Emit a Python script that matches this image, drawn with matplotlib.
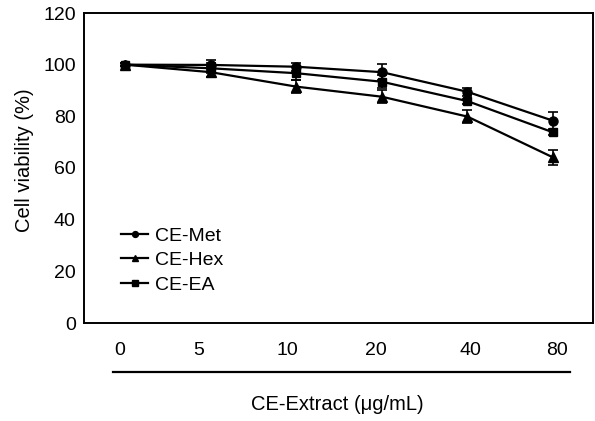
import numpy as np
import matplotlib.pyplot as plt

plt.rcParams['font.family'] = ['Liberation Sans', 'DejaVu Sans']

# ---- data ----
doses = ['0', '5', '10', '20', '40', '80']
met = [100.0, 99.9, 99.2, 97.1, 89.5, 78.3]
met_err = [0.5, 2.0, 1.5, 3.0, 1.5, 3.5]
hex_ = [100.0, 97.1, 91.5, 87.6, 79.9, 64.1]
hex_err = [0.5, 2.0, 2.5, 2.5, 2.5, 2.8]
ea = [100.0, 98.6, 96.7, 93.4, 85.9, 73.8]
ea_err = [0.5, 2.0, 2.5, 2.5, 1.0, 1.2]

# label row in the original sits a little off the data points
label_pos = [-0.06, 0.86, 1.90, 2.93, 4.04, 5.05]

fig = plt.figure(figsize=(5.95, 4.21), dpi=100)
ax = fig.add_axes([84 / 595, 1 - 323 / 421, 509 / 595, 310 / 421])

x = np.arange(len(doses))
handles = []
for y, err, mk, ms, name in [(met, met_err, 'o', 6.5, 'CE-Met'),
                             (hex_, hex_err, '^', 6.5, 'CE-Hex'),
                             (ea, ea_err, 's', 6, 'CE-EA')]:
    eb = ax.errorbar(x, y, yerr=err, color='black', marker=mk, markersize=ms,
                     lw=1.6, elinewidth=1.2, capsize=3.5, capthick=1.2)
    eb[0].set_label(name)
    handles.append(eb[0])

ax.set_xlim(-0.479, 5.467)
ax.set_ylim(0, 120)
ax.set_yticks(range(0, 121, 20))
ax.set_xticks(label_pos)
ax.set_xticklabels(doses)
ax.tick_params(axis='both', length=0, labelsize=14)
ax.tick_params(axis='y', pad=6)
ax.tick_params(axis='x', pad=14)
for s in ax.spines.values():
    s.set_linewidth(1.4)

# underline and axis title below the labels
fig.add_artist(plt.Line2D([113 / 595, 570 / 595], [1 - 372 / 421] * 2,
                          color='black', lw=1.6))
fig.text(337 / 595, 1 - 404 / 421, 'CE-Extract (μg/mL)', ha='center',
         va='center', fontsize=14.5)
fig.text(24 / 595, 1 - 160 / 421, 'Cell viability (%)', ha='center',
         va='center', rotation=90, fontsize=14.5)

ax.legend(handles=handles, loc='upper left', bbox_to_anchor=(0.073, 0.31),
          frameon=False, fontsize=14, handlelength=1.4, handletextpad=0.35,
          labelspacing=0.36, borderaxespad=0, borderpad=0, markerscale=0.65)

fig.savefig('out.png', dpi=100)
